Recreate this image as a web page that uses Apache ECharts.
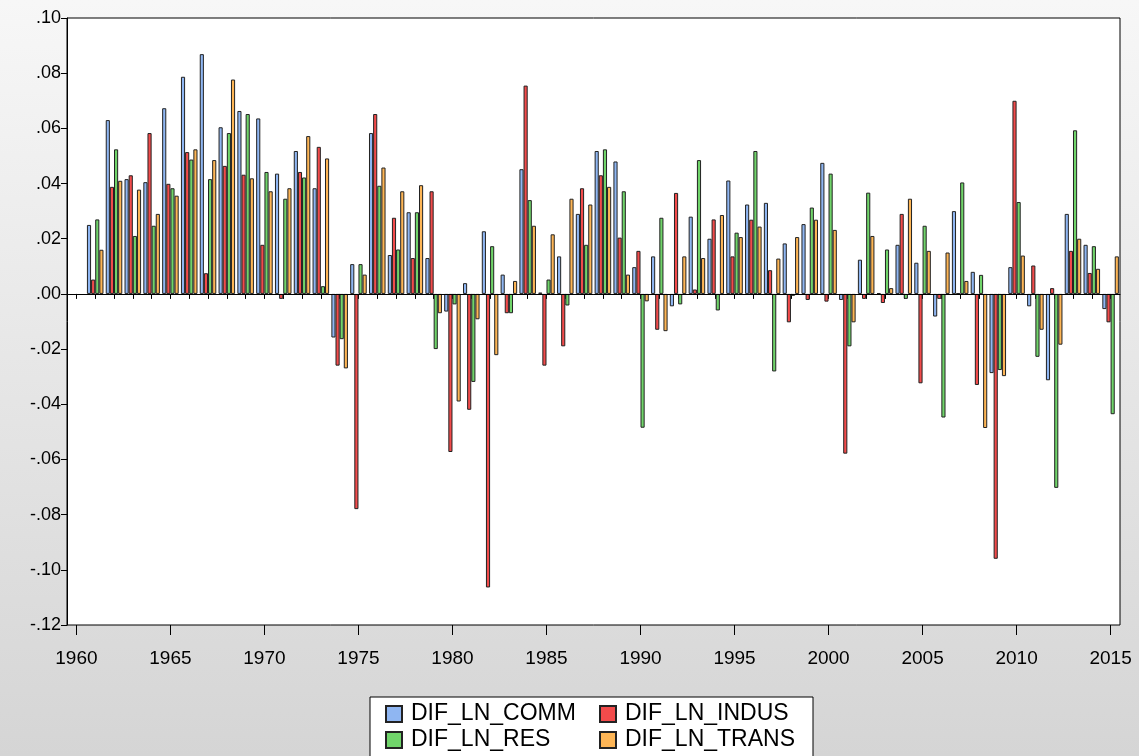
<!DOCTYPE html>
<html>
<head>
<meta charset="utf-8">
<script src="https://cdn.jsdelivr.net/npm/echarts@6/dist/echarts.min.js"></script>
<style>
  html, body { margin: 0; padding: 0; }
  #main { width: 1139px; height: 756px; }
</style>
</head>
<body>
<div id="main"></div>
<script>
// years 1960..2015, first year has no difference
const years = []
for (let y = 1960; y <= 2015; y++) years.push(String(y))

const comm = [null,
  0.025, 0.063, 0.0416, 0.0405, 0.0673, 0.0787, 0.0869, 0.0604, 0.0663, 0.0636,
  0.0436, 0.0518, 0.0383, -0.0158, 0.0108, 0.0583, 0.0141, 0.0296, 0.013, -0.0064,
  0.0039, 0.0227, 0.007, 0.0452, 0.0005, 0.0136, 0.029, 0.0518, 0.048, 0.0097,
  0.0136, -0.0045, 0.028, 0.02, 0.0411, 0.0324, 0.033, 0.0183, 0.0253, 0.0475,
  -0.0022, 0.0124, 0.0003, 0.0178, 0.0113, -0.0082, 0.030, 0.008, -0.0287, 0.0097,
  -0.0045, -0.0313, 0.029, 0.0178, -0.0055]
const indus = [null,
  0.0052, 0.0388, 0.043, 0.0583, 0.0399, 0.0514, 0.0075, 0.0464, 0.0432, 0.0178,
  -0.0018, 0.0442, 0.0533, -0.026, -0.078, 0.0652, 0.0276, 0.013, 0.0372, -0.0573,
  -0.042, -0.1064, -0.007, 0.0755, -0.026, -0.019, 0.0383, 0.043, 0.0204, 0.0156,
  -0.013, 0.0366, 0.0016, 0.027, 0.0136, 0.0269, 0.0086, -0.0103, -0.0022, -0.0028,
  -0.0579, -0.0018, -0.0033, 0.029, -0.0324, -0.0018, 0.0003, -0.033, -0.096, 0.070,
  0.0103, 0.0021, 0.0156, 0.0076, -0.0103]
const res = [null,
  0.027, 0.0524, 0.021, 0.0247, 0.0383, 0.0487, 0.0416, 0.0583, 0.0652, 0.0442,
  0.0345, 0.0422, 0.0028, -0.0164, 0.0108, 0.0392, 0.0161, 0.0296, -0.020, -0.0038,
  -0.0319, 0.0173, -0.007, 0.034, 0.0052, -0.0042, 0.0178, 0.0524, 0.0372, -0.0485,
  0.0276, -0.0038, 0.0485, -0.006, 0.0222, 0.0518, -0.0281, -0.0007, 0.0313, 0.0436,
  -0.019, 0.0367, 0.0161, -0.0018, 0.0247, -0.0448, 0.0404, 0.0069, -0.0276, 0.0333,
  -0.0228, -0.0703, 0.0593, 0.0173, -0.0436]
const trans = [null,
  0.016, 0.041, 0.0378, 0.029, 0.0356, 0.0524, 0.0485, 0.0777, 0.0419, 0.0372,
  0.0383, 0.0572, 0.0491, -0.027, 0.007, 0.0458, 0.0372, 0.0394, -0.007, -0.039,
  -0.0092, -0.0222, 0.0047, 0.0247, 0.0216, 0.0345, 0.0324, 0.0388, 0.007, -0.0027,
  -0.0135, 0.0136, 0.013, 0.0286, 0.0206, 0.0244, 0.0128, 0.0206, 0.0269, 0.0232,
  -0.0103, 0.021, 0.0021, 0.0345, 0.0156, 0.015, 0.0047, -0.0486, -0.0298, 0.0139,
  -0.013, -0.0184, 0.020, 0.0091, 0.0136]

const seriesNames = ['DIF_LN_COMM', 'DIF_LN_INDUS', 'DIF_LN_RES', 'DIF_LN_TRANS']
const seriesData = [comm, indus, res, trans]
const colors = ['#8fb6f2', '#f24b4b', '#70d46a', '#fdb555']

const chart = echarts.init(document.getElementById('main'))

// eviews style labels: .10, -.02
function fmt(v) {
  const s = Math.abs(v).toFixed(2).replace(/^0/, '')
  return (v < -1e-9 ? '-' : '') + s
}

const font = 'Liberation Sans, Arial, sans-serif'

chart.setOption({
  backgroundColor: {
    type: 'linear', x: 0, y: 0, x2: 0, y2: 1,
    colorStops: [{ offset: 0, color: '#f7f7f7' }, { offset: 1, color: '#d5d5d5' }]
  },
  animation: false,
  color: colors,
  grid: {
    left: 67, right: 19, top: 18, bottom: 131,
    show: true, backgroundColor: '#fff', borderColor: '#000', borderWidth: 1
  },
  legend: {
    data: seriesNames,
    left: 370, top: 697, width: 470,
    padding: [5, 2, 20, 15],
    itemWidth: 16, itemHeight: 16, itemGap: 2,
    icon: 'rect',
    backgroundColor: '#fff', borderColor: '#000', borderWidth: 1,
    textStyle: {
      fontFamily: font, fontSize: 23, color: '#000',
      width: 186, lineHeight: 24, padding: [0, 0, 0, 4]
    }
  },
  xAxis: [{
    type: 'category',
    data: years,
    axisLine: { show: true, lineStyle: { color: '#000' } },
    axisTick: { show: true, interval: 0, alignWithLabel: true, length: 5, lineStyle: { color: '#000' } },
    axisLabel: { interval: 4, fontFamily: font, fontSize: 19, color: '#000', margin: 24 },
    splitLine: { show: false }
  }, {
    type: 'category',
    data: years,
    position: 'bottom',
    axisLine: { show: false },
    axisTick: { show: true, interval: 4, alignWithLabel: true, length: 10, lineStyle: { color: '#000' } },
    axisLabel: { show: false },
    splitLine: { show: false }
  }],
  yAxis: {
    type: 'value',
    min: -0.12, max: 0.10, interval: 0.02,
    axisLine: { show: true, lineStyle: { color: '#000' } },
    axisTick: { show: true, length: 6, lineStyle: { color: '#000' } },
    axisLabel: { formatter: fmt, fontFamily: font, fontSize: 18, color: '#000', margin: 6 },
    splitLine: { show: false }
  },
  series: seriesNames.map((name, i) => ({
    name: name,
    type: 'bar',
    xAxisIndex: 0,
    data: seriesData[i],
    barGap: '0%',
    barCategoryGap: '12%',
    itemStyle: { color: colors[i], borderColor: '#222', borderWidth: 1 },
    markLine: i === 0 ? {
      silent: true, symbol: 'none', label: { show: false },
      lineStyle: { color: '#000', type: 'solid', width: 1 },
      data: [{ yAxis: 0 }]
    } : undefined
  }))
})
</script>
</body>
</html>
